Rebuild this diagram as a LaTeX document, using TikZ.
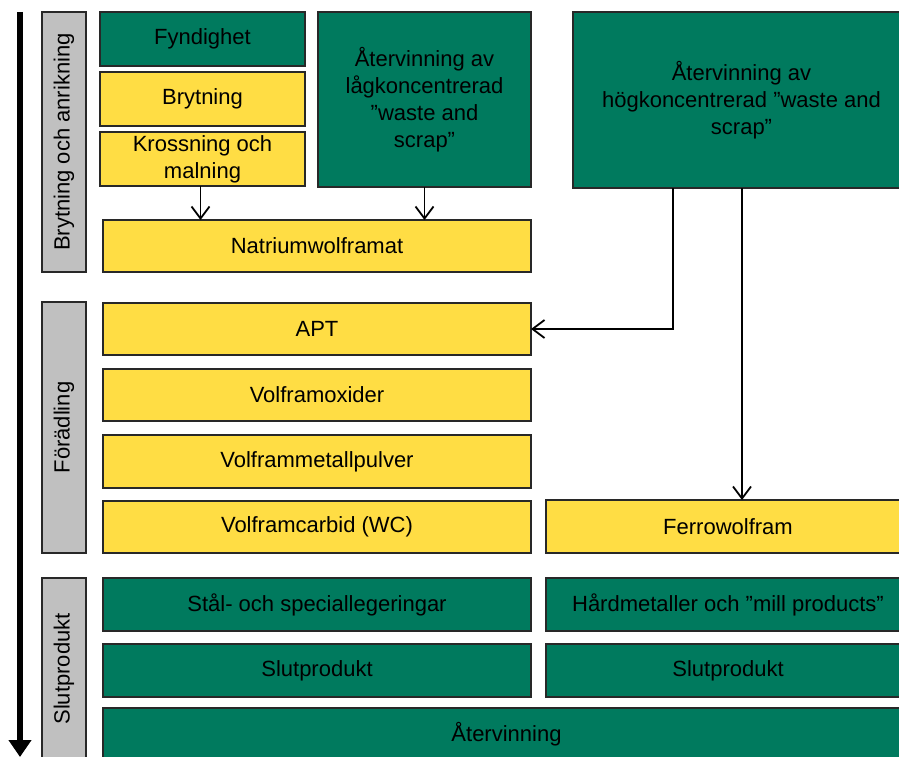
\documentclass[tikz,border=0pt]{standalone}
\usepackage{fontspec}
\setmainfont{Liberation Sans}
\usetikzlibrary{arrows.meta}
\definecolor{leaf}{RGB}{0,122,94}
\definecolor{sun}{RGB}{255,221,68}
\definecolor{stone}{RGB}{192,192,192}
\definecolor{rim}{RGB}{40,40,40}

% \panel{style}{name}{x1}{y1}{x2}{y2}{text}: box given by its corners
\newcommand{\panel}[7]{%
  \node[#1, minimum width={#5-#3}, minimum height={#6-#4}] (#2)
    at ({(#3+#5)/2},{(#4+#6)/2}) {#7};}

\begin{document}
\begin{tikzpicture}[x=1pt, y=-1pt,
  base/.style={draw=rim, line width=1.2pt, inner sep=0pt, outer sep=0pt,
    align=center, text=black, font=\fontsize{22}{27}\selectfont},
  greenbox/.style={base, fill=leaf},
  yellowbox/.style={base, fill=sun},
  phasebar/.style={base, fill=stone, rotate=90},
  flow/.style={line width=1.8pt, -{Straight Barb[length=12pt,width=18pt]}},
  timeline/.style={line width=6.5pt, -{Triangle[length=17pt,width=22pt]}},
]
\useasboundingbox (0,0) rectangle (899,757);

% time axis
\coordinate (axistop) at (20,12);
\coordinate (axisend) at (20,757);
\draw[timeline] (axistop) -- (axisend);

% phase bars
\node[phasebar, minimum width=260, minimum height=44] (phase1) at (64,142) {Brytning och anrikning};
\node[phasebar, minimum width=251, minimum height=44] (phase2) at (64,427.5) {Förädling};
\node[phasebar, minimum width=182, minimum height=44] (phase3) at (64,669) {Slutprodukt};

% mining and concentration
\panel{greenbox}{fynd}{100}{12}{305}{66}{Fyndighet}
\panel{yellowbox}{bryt}{100}{72}{305}{126}{Brytning}
\panel{yellowbox}{kross}{100}{132}{305}{186}{Krossning och\\malning}
\panel{greenbox}{lowscrap}{318}{12}{531}{187}{Återvinning av\\lågkoncentrerad\\”waste and\\scrap”}
\panel{greenbox}{highscrap}{573}{12}{910}{188}{Återvinning av\\högkoncentrerad ”waste and\\scrap”}
\panel{yellowbox}{natr}{103}{220}{531}{272}{Natriumwolframat}

% refining
\panel{yellowbox}{apt}{103}{303}{531}{355}{APT}
\panel{yellowbox}{oxid}{103}{369}{531}{421}{Volframoxider}
\panel{yellowbox}{pulv}{103}{435}{531}{488}{Volframmetallpulver}
\panel{yellowbox}{carb}{103}{501}{531}{553}{Volframcarbid (WC)}
\panel{yellowbox}{ferro}{546}{500}{910}{553}{Ferrowolfram}

% end products
\panel{greenbox}{stal}{103}{578}{531}{631}{Stål- och speciallegeringar}
\panel{greenbox}{hard}{546}{578}{910}{631}{Hårdmetaller och ”mill products”}
\panel{greenbox}{slutA}{103}{644}{531}{697}{Slutprodukt}
\panel{greenbox}{slutB}{546}{644}{910}{697}{Slutprodukt}
\panel{greenbox}{recyc}{103}{708}{910}{760}{Återvinning}

% flows
\draw[flow] ([xshift=-2pt]kross.south) -- ([xshift=-2pt]kross.south |- natr.north);
\draw[flow] (lowscrap.south) -- (lowscrap.south |- natr.north);
\draw[flow] ([xshift=-68.5pt]highscrap.south) |- (apt.east);
\draw[flow] ([xshift=0.5pt]highscrap.south) -- ([xshift=0.5pt]highscrap.south |- ferro.north);
\end{tikzpicture}
\end{document}
